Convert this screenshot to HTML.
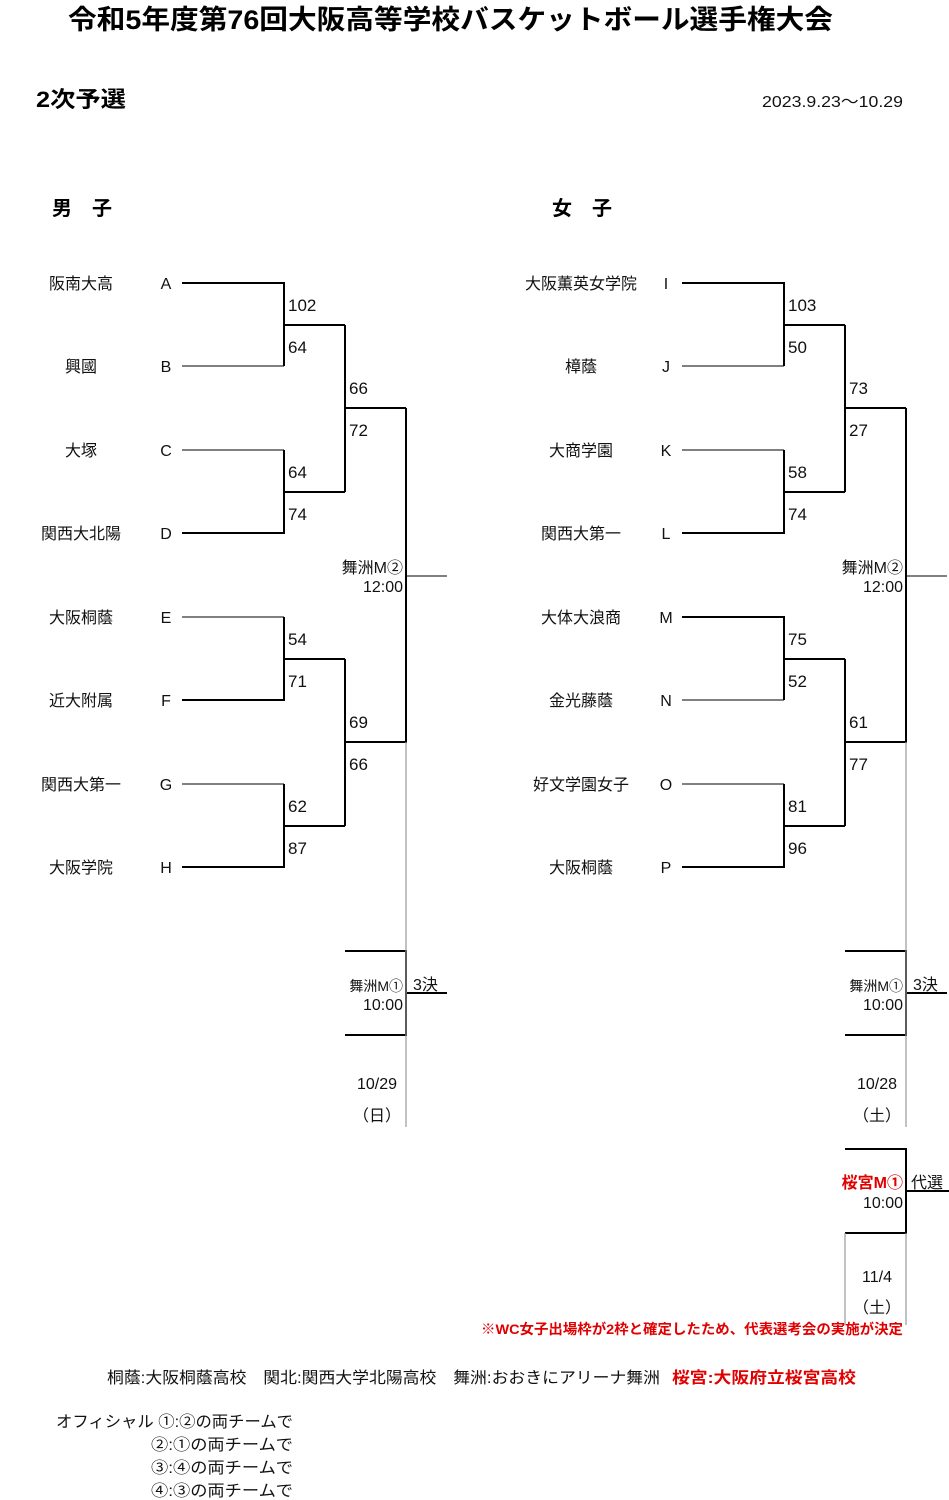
<!DOCTYPE html>
<html><head><meta charset="utf-8"><style>
html,body{margin:0;padding:0;background:#fff;}
svg{display:block;font-family:"Liberation Sans","Noto Sans CJK JP",sans-serif;}
.t{font-size:16px;fill:#111}
.s{font-size:17px;fill:#111}
.m{text-anchor:middle}
.e{text-anchor:end}
</style></head><body>
<svg width="949" height="1500" viewBox="0 0 949 1500" xmlns="http://www.w3.org/2000/svg">
<text x="68" y="29" font-size="27" font-weight="bold" fill="#000" textLength="765" lengthAdjust="spacingAndGlyphs">令和5年度第76回大阪高等学校バスケットボール選手権大会</text>
<text x="36" y="107" font-size="22" font-weight="bold" fill="#000" textLength="90" lengthAdjust="spacingAndGlyphs">2次予選</text>
<text x="762" y="107" class="t" textLength="141" lengthAdjust="spacingAndGlyphs">2023.9.23～10.29</text>
<text x="52" y="215" font-size="20" font-weight="bold" fill="#000">男　子</text>
<text x="552" y="215" font-size="20" font-weight="bold" fill="#000">女　子</text>

<g stroke="#000" fill="none" stroke-width="2">
<path d="M182 283H284V366M284 325H345M182 533H284V450M284 492H345M345 325V492M345 408H406"/>
<path d="M182 700H284V617M284 659H345M182 867H284V784M284 826H345M345 659V826M345 742H406V408"/>
<path d="M345 951H406V1035H345M406 993H447"/>
<path d="M682 283H784V366M784 325H845M682 533H784V450M784 492H845M845 325V492M845 408H906"/>
<path d="M682 617H784V700M784 659H845M682 867H784V784M784 826H845M845 659V826M845 742H906V408"/>
<path d="M845 951H906V1035H845M906 993H947"/>
<path d="M845 1149H906V1233H845M906 1191H949"/>
</g>
<g stroke="#000" fill="none" stroke-width="1">
<path d="M182 366H284M182 450H284M182 617H284M182 784H284M406 576H447"/>
<path d="M682 366H784M682 450H784M682 700H784M682 784H784M906 576H947"/>
</g>
<g stroke="#999" stroke-width="1.2" fill="none">
<path d="M406 742V1127M906 742V1127M845 1233V1325M906 1233V1325"/>
</g>

<g class="t">
<text x="81" y="289" class="m">阪南大高</text><text x="166" y="289" class="m">A</text>
<text x="81" y="372" class="m">興國</text><text x="166" y="372" class="m">B</text>
<text x="81" y="456" class="m">大塚</text><text x="166" y="456" class="m">C</text>
<text x="81" y="539" class="m">関西大北陽</text><text x="166" y="539" class="m">D</text>
<text x="81" y="623" class="m">大阪桐蔭</text><text x="166" y="623" class="m">E</text>
<text x="81" y="706" class="m">近大附属</text><text x="166" y="706" class="m">F</text>
<text x="81" y="790" class="m">関西大第一</text><text x="166" y="790" class="m">G</text>
<text x="81" y="873" class="m">大阪学院</text><text x="166" y="873" class="m">H</text>
<text x="581" y="289" class="m">大阪薫英女学院</text><text x="666" y="289" class="m">I</text>
<text x="581" y="372" class="m">樟蔭</text><text x="666" y="372" class="m">J</text>
<text x="581" y="456" class="m">大商学園</text><text x="666" y="456" class="m">K</text>
<text x="581" y="539" class="m">関西大第一</text><text x="666" y="539" class="m">L</text>
<text x="581" y="623" class="m">大体大浪商</text><text x="666" y="623" class="m">M</text>
<text x="581" y="706" class="m">金光藤蔭</text><text x="666" y="706" class="m">N</text>
<text x="581" y="790" class="m">好文学園女子</text><text x="666" y="790" class="m">O</text>
<text x="581" y="873" class="m">大阪桐蔭</text><text x="666" y="873" class="m">P</text>
<text x="403" y="573" class="e">舞洲M②</text><text x="403" y="592" class="e">12:00</text>
<text x="403" y="991" class="e" font-size="14">舞洲M①</text><text x="403" y="1010" class="e">10:00</text>
<text x="413" y="990">3決</text>
<text x="377" y="1089" class="m">10/29</text><text x="377" y="1121" class="m">（日）</text>
<text x="903" y="573" class="e">舞洲M②</text><text x="903" y="592" class="e">12:00</text>
<text x="903" y="991" class="e" font-size="14">舞洲M①</text><text x="903" y="1010" class="e">10:00</text>
<text x="913" y="990">3決</text>
<text x="877" y="1089" class="m">10/28</text><text x="877" y="1121" class="m">（土）</text>
<text x="903" y="1188" class="e" fill="#e00000" font-weight="bold">桜宮M①</text><text x="903" y="1208" class="e">10:00</text>
<text x="911" y="1188">代選</text>
<text x="877" y="1282" class="m">11/4</text><text x="877" y="1313" class="m">（土）</text>
</g>
<g class="s">
<text x="288" y="311">102</text><text x="288" y="353">64</text>
<text x="288" y="478">64</text><text x="288" y="520">74</text>
<text x="288" y="645">54</text><text x="288" y="687">71</text>
<text x="288" y="812">62</text><text x="288" y="854">87</text>
<text x="349" y="394">66</text><text x="349" y="436">72</text>
<text x="349" y="728">69</text><text x="349" y="770">66</text>
<text x="788" y="311">103</text><text x="788" y="353">50</text>
<text x="788" y="478">58</text><text x="788" y="520">74</text>
<text x="788" y="645">75</text><text x="788" y="687">52</text>
<text x="788" y="812">81</text><text x="788" y="854">96</text>
<text x="849" y="394">73</text><text x="849" y="436">27</text>
<text x="849" y="728">61</text><text x="849" y="770">77</text>
</g>
<text x="481" y="1334" font-size="14" font-weight="bold" fill="#e00000" textLength="422" lengthAdjust="spacingAndGlyphs">※WC女子出場枠が2枠と確定したため、代表選考会の実施が決定</text>
<text x="107" y="1383" class="t" textLength="553" lengthAdjust="spacingAndGlyphs">桐蔭:大阪桐蔭高校　関北:関西大学北陽高校　舞洲:おおきにアリーナ舞洲</text>
<text x="672" y="1383" font-size="16" font-weight="bold" fill="#e00000" textLength="184" lengthAdjust="spacingAndGlyphs">桜宮:大阪府立桜宮高校</text>
<g class="t">
<text x="56" y="1427" textLength="237" lengthAdjust="spacingAndGlyphs">オフィシャル ①:②の両チームで</text>
<text x="151" y="1450" textLength="142" lengthAdjust="spacingAndGlyphs">②:①の両チームで</text>
<text x="151" y="1473" textLength="142" lengthAdjust="spacingAndGlyphs">③:④の両チームで</text>
<text x="151" y="1496" textLength="142" lengthAdjust="spacingAndGlyphs">④:③の両チームで</text>
</g>
</svg>
</body></html>
